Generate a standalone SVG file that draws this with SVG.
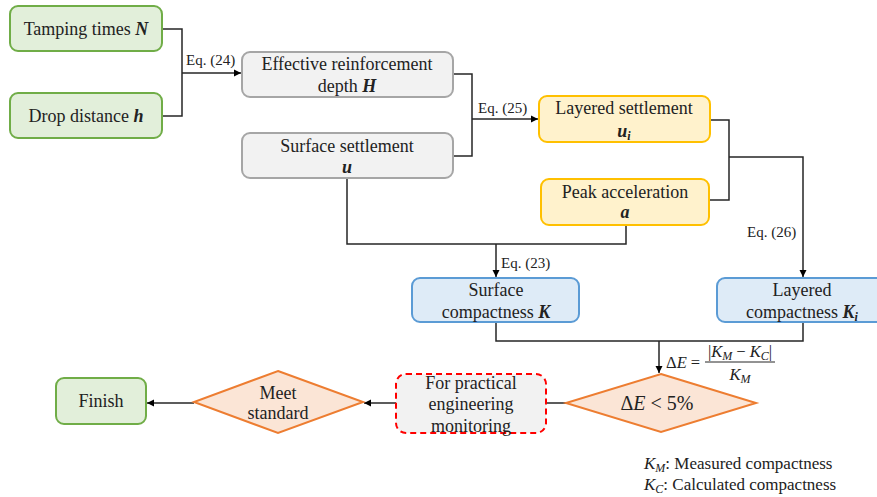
<svg xmlns="http://www.w3.org/2000/svg" width="877" height="497" viewBox="0 0 877 497">
<style>
text{font-family:"Liberation Serif","Times New Roman",serif;font-size:18px;fill:#222;}
.c{text-anchor:middle;}
.bi{font-weight:bold;font-style:italic;}
.it{font-style:italic;}
.eq{font-size:15px;}
.fm{font-size:16.5px;}
.sub{font-size:12px;}
.green{fill:#e2efda;stroke:#70ad47;stroke-width:2;}
.gray{fill:#f2f2f2;stroke:#a6a6a6;stroke-width:2;}
.yellow{fill:#fff2cc;stroke:#ffc000;stroke-width:2;}
.blue{fill:#deebf7;stroke:#5b9bd5;stroke-width:2;}
.orange{fill:#fbe5d6;stroke:#ed7d31;stroke-width:2;}
.dash{fill:#f2f2f2;stroke:#ff0000;stroke-width:2;stroke-dasharray:6 4;}
.ln{fill:none;stroke:#262626;stroke-width:1.5;}
.arr{marker-end:url(#ah);}
</style>
<defs>
<marker id="ah" markerWidth="8" markerHeight="8" refX="7" refY="4" orient="auto" markerUnits="userSpaceOnUse">
<path d="M0,0.5 L7,4 L0,7.5 Z" fill="#000"/>
</marker>
</defs>
<rect width="877" height="497" fill="#fff"/>

<g id="connectors">
<path class="ln" d="M162,29 H182 V116 H162"/>
<path class="ln arr" d="M182,73 H241"/>
<text class="eq" x="186" y="65">Eq. (24)</text>
<path class="ln" d="M453,74 H472 V156 H453"/>
<path class="ln arr" d="M472,119 H538"/>
<text class="eq" x="478" y="113">Eq. (25)</text>
<path class="ln" d="M710,120 H729 V200 H709"/>
<path class="ln arr" d="M729,157 H803 V277"/>
<text class="eq" x="747" y="237">Eq. (26)</text>
<path class="ln" d="M626,225 V244 H347 V178"/>
<path class="ln arr" d="M496,244 V277"/>
<text class="eq" x="501" y="268">Eq. (23)</text>
<path class="ln" d="M496,322 V341 H803 V322"/>
<path class="ln arr" d="M659,341 V373"/>
<g id="formula">
<text class="fm" x="666" y="368"><tspan>Δ</tspan><tspan class="it">E</tspan> =</text>
<text class="fm c" x="740" y="357">|<tspan class="it">K</tspan><tspan class="sub it" dy="3">M</tspan><tspan dy="-3"> − </tspan><tspan class="it">K</tspan><tspan class="sub it" dy="3">C</tspan><tspan dy="-3">|</tspan></text>
<line x1="705" y1="362" x2="775" y2="362" stroke="#262626" stroke-width="1"/>
<text class="fm c" x="740" y="380"><tspan class="it">K</tspan><tspan class="sub it" dy="3">M</tspan></text>
</g>
<path class="ln" d="M566,403 H546"/>
<path class="ln arr" d="M396,403 H364"/>
<path class="ln arr" d="M194,403 H147"/>
</g>

<g id="tamping">
<rect class="green" x="10" y="6" width="152" height="45" rx="8"/>
<text class="c" x="86" y="35">Tamping times <tspan class="bi">N</tspan></text>
</g>
<g id="drop">
<rect class="green" x="10" y="93" width="152" height="45" rx="8"/>
<text class="c" x="86" y="122">Drop distance <tspan class="bi">h</tspan></text>
</g>
<g id="effective">
<rect class="gray" x="242" y="52" width="211" height="45" rx="8"/>
<text class="c" x="347" y="70">Effective reinforcement</text>
<text class="c" x="347" y="92">depth <tspan class="bi">H</tspan></text>
</g>
<g id="surface-settlement">
<rect class="gray" x="242" y="133" width="211" height="45" rx="8"/>
<text class="c" x="347" y="152">Surface settlement</text>
<text class="c bi" x="347" y="173">u</text>
</g>
<g id="layered-settlement">
<rect class="yellow" x="539" y="96" width="171" height="46" rx="8"/>
<text class="c" x="624" y="114">Layered settlement</text>
<text class="c bi" x="624" y="137">u<tspan class="sub" dy="3">i</tspan></text>
</g>
<g id="peak">
<rect class="yellow" x="541" y="179" width="168" height="46" rx="8"/>
<text class="c" x="625" y="198">Peak acceleration</text>
<text class="c bi" x="625" y="218">a</text>
</g>
<g id="surface-compactness">
<rect class="blue" x="412" y="278" width="167" height="44" rx="8"/>
<text class="c" x="496" y="296">Surface</text>
<text class="c" x="496" y="318">compactness <tspan class="bi">K</tspan></text>
</g>
<g id="layered-compactness">
<rect class="blue" x="717" y="278" width="171" height="44" rx="8"/>
<text class="c" x="802" y="296">Layered</text>
<text class="c" x="802" y="318">compactness <tspan class="bi">K</tspan><tspan class="bi sub" dy="3">i</tspan></text>
</g>
<g id="delta-check">
<polygon class="orange" points="661,374 756,403 661,432 566,403"/>
<text class="c" x="657" y="410" style="font-size:20px">Δ<tspan class="it">E</tspan> &lt; 5%</text>
</g>
<g id="practical">
<rect class="dash" x="396" y="374" width="150" height="59" rx="10"/>
<text class="c" x="471" y="389">For practical</text>
<text class="c" x="471" y="410">engineering</text>
<text class="c" x="471" y="432">monitoring</text>
</g>
<g id="meet">
<polygon class="orange" points="278,371 363,402 278,433 194,402"/>
<text class="c" x="278" y="399">Meet</text>
<text class="c" x="278" y="419">standard</text>
</g>
<g id="finish">
<rect class="green" x="56" y="378" width="90" height="46" rx="8"/>
<text class="c" x="101" y="407">Finish</text>
</g>
<g id="legend">
<text x="644" y="469" style="font-size:17px"><tspan class="it">K</tspan><tspan class="sub it" dy="3">M</tspan><tspan dy="-3">: Measured compactness</tspan></text>
<text x="644" y="490" style="font-size:17px"><tspan class="it">K</tspan><tspan class="sub it" dy="3">C</tspan><tspan dy="-3">: Calculated compactness</tspan></text>
</g>
</svg>
